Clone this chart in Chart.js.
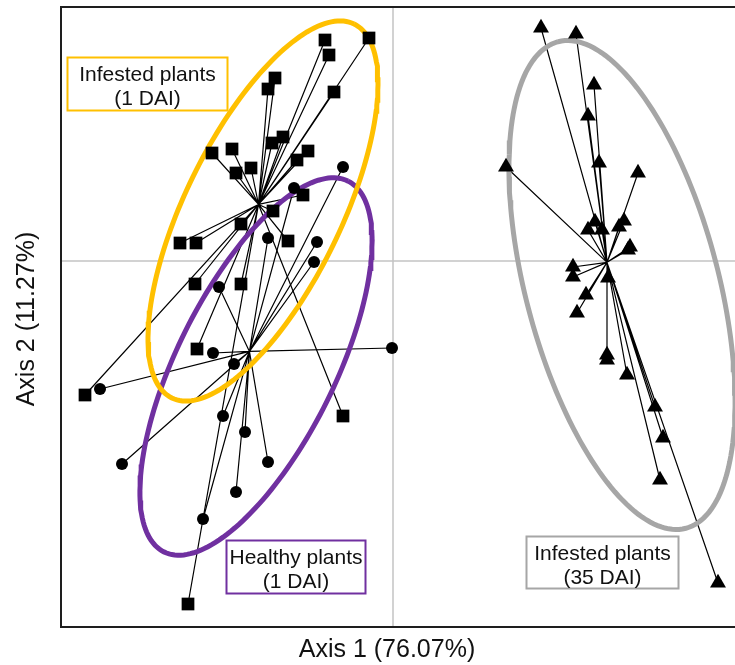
<!DOCTYPE html>
<html>
<head>
<meta charset="utf-8">
<script src="https://cdn.jsdelivr.net/npm/chart.js@4/dist/chart.umd.min.js"></script>
<style>
  html, body { margin: 0; padding: 0; background: #fff; overflow: hidden; }
  #wrap { width: 735px; height: 665px; position: relative; }
</style>
</head>
<body>
<div id="wrap"><canvas id="c" width="735" height="665"></canvas></div>
<script>
// PCoA scores (Axis 1, Axis 2) per sample, grouped by treatment
const infested1DaiX = [-0.068, -0.024, -0.064, -0.118, -0.125, -0.059, -0.110, -0.121, -0.161, -0.181,
                       -0.085, -0.096, -0.142, -0.157, -0.090, -0.120, -0.152, -0.213, -0.197, -0.105,
                       -0.198, -0.152, -0.196, -0.308, -0.050, -0.205];
const infested1DaiY = [ 0.221,  0.223,  0.206,  0.183,  0.172,  0.169,  0.124,  0.118,  0.112,  0.108,
                        0.110,  0.101,  0.093,  0.088,  0.066,  0.050,  0.037,  0.018,  0.018,  0.020,
                       -0.023, -0.023, -0.088, -0.134, -0.155, -0.343];

const healthy1DaiX = [-0.050, -0.099, -0.125, -0.076, -0.079, -0.174, -0.001, -0.180,
                      -0.159, -0.293, -0.170, -0.148, -0.271, -0.125, -0.157, -0.190];
const healthy1DaiY = [ 0.094,  0.073,  0.023,  0.019, -0.001, -0.026, -0.087, -0.092,
                      -0.103, -0.128, -0.155, -0.171, -0.203, -0.201, -0.231, -0.258];

const infested35DaiX = [0.148, 0.183, 0.201, 0.195, 0.206, 0.113, 0.245, 0.202, 0.195, 0.209,
                        0.231, 0.226, 0.237, 0.235, 0.180, 0.180, 0.215, 0.193, 0.184, 0.214,
                        0.214, 0.234, 0.262, 0.270, 0.267, 0.325];
const infested35DaiY = [0.233, 0.227, 0.176, 0.145, 0.098, 0.094, 0.088, 0.039, 0.031, 0.031,
                        0.040, 0.034, 0.014, 0.011, -0.006, -0.016, -0.017, -0.034, -0.052, -0.094,
                       -0.099, -0.114, -0.146, -0.177, -0.219, -0.322];

// Group dispersion ellipses: centre, semi-axes and rotation (degrees)
const ellipseCentreX = [-0.130, -0.137, 0.229];
const ellipseCentreY = [ 0.050, -0.1055, -0.024];
const ellipseMajor   = [ 0.208,  0.207,  0.2515];
const ellipseMinor   = [ 0.078,  0.079,  0.0965];
const ellipseAngle   = [ 64.0,   63.6,  104.7];

// Group label boxes (anchored at a centre in axis units)
const labelLines = [['Infested plants', '(1 DAI)'], ['Healthy plants', '(1 DAI)'], ['Infested plants', '(35 DAI)']];
const labelCentreX = [-0.246, -0.0975, 0.209];
const labelCentreY = [ 0.1775, -0.3055, -0.301];

const axisTitles = ['Axis 1 (76.07%)', 'Axis 2 (11.27%)'];

const groupColours = ['#FFC000', '#7030A0', '#A6A6A6'];
const markerStyles = ['rect', 'circle', 'triangle'];
const markerRadii = [9, 6, 9.2];
const labelSizes = [[160, 53], [139, 53], [152, 52]];

const groups = [
  { xs: infested1DaiX, ys: infested1DaiY },
  { xs: healthy1DaiX, ys: healthy1DaiY },
  { xs: infested35DaiX, ys: infested35DaiY }
];

const mean = a => a.reduce((s, v) => s + v, 0) / a.length;

const datasets = [];
groups.forEach((g, gi) => {
  const pts = g.xs.map((x, i) => ({ x, y: g.ys[i] }));
  const cx = mean(g.xs), cy = mean(g.ys);

  // spokes from group centroid to each sample
  const spokes = [];
  pts.forEach(p => {
    spokes.push({ x: cx, y: cy }, { x: p.x, y: p.y }, { x: p.x, y: null });
  });
  datasets.push({
    data: spokes, showLine: true, spanGaps: false, pointRadius: 0, pointHoverRadius: 0,
    borderColor: '#000', borderWidth: 1.2, order: 3
  });

  // dispersion ellipse outline
  const ring = [];
  const th = ellipseAngle[gi] * Math.PI / 180;
  for (let k = 0; k <= 180; k++) {
    const t = k / 180 * 2 * Math.PI;
    const u = ellipseMajor[gi] * Math.cos(t), v = ellipseMinor[gi] * Math.sin(t);
    ring.push({
      x: ellipseCentreX[gi] + u * Math.cos(th) - v * Math.sin(th),
      y: ellipseCentreY[gi] + u * Math.sin(th) + v * Math.cos(th)
    });
  }
  datasets.push({
    data: ring, showLine: true, pointRadius: 0, pointHoverRadius: 0, tension: 0,
    borderColor: groupColours[gi], borderWidth: 5, order: 2, clip: false
  });

  // sample markers
  datasets.push({
    data: pts, showLine: false, pointStyle: markerStyles[gi], pointRadius: markerRadii[gi],
    backgroundColor: '#000', borderColor: '#000', borderWidth: 0, order: 1
  });
});

const fontFamily = '"Liberation Sans", Arial, sans-serif';

const framePlugin = {
  id: 'frame',
  beforeDatasetsDraw(chart) {
    const { ctx, chartArea: a, scales: { x, y } } = chart;
    ctx.save();
    ctx.strokeStyle = '#c4c4c4';
    ctx.lineWidth = 1.5;
    const x0 = x.getPixelForValue(0), y0 = y.getPixelForValue(0);
    ctx.beginPath();
    ctx.moveTo(x0, a.top); ctx.lineTo(x0, a.bottom);
    ctx.moveTo(a.left, y0); ctx.lineTo(chart.width, y0);
    ctx.stroke();
    ctx.restore();
  },
  afterDatasetsDraw(chart) {
    const { ctx, chartArea: a, scales: { x, y } } = chart;
    ctx.save();
    // group label boxes
    labelLines.forEach((lines, i) => {
      const cx = x.getPixelForValue(labelCentreX[i]);
      const cy = y.getPixelForValue(labelCentreY[i]);
      const [w, h] = labelSizes[i];
      const left = Math.round(cx - w / 2) + 0.5, top = Math.round(cy - h / 2) + 0.5;
      ctx.fillStyle = '#fff';
      ctx.fillRect(left, top, w, h);
      ctx.strokeStyle = groupColours[i];
      ctx.lineWidth = 2;
      ctx.strokeRect(left, top, w, h);
      ctx.fillStyle = '#111';
      ctx.font = '21px ' + fontFamily;
      ctx.textAlign = 'center';
      ctx.textBaseline = 'alphabetic';
      ctx.fillText(lines[0], left + w / 2, top + 23);
      ctx.fillText(lines[1], left + w / 2, top + 47);
    });
    // plot frame (left, top, bottom)
    ctx.strokeStyle = '#1e1e1e';
    ctx.lineWidth = 2;
    ctx.beginPath();
    ctx.moveTo(chart.width, a.top); ctx.lineTo(a.left, a.top);
    ctx.lineTo(a.left, a.bottom); ctx.lineTo(chart.width, a.bottom);
    ctx.stroke();
    // axis titles
    ctx.fillStyle = '#111';
    ctx.font = '25px ' + fontFamily;
    ctx.textAlign = 'center';
    ctx.textBaseline = 'alphabetic';
    ctx.fillText(axisTitles[0], a.left + 326, a.bottom + 30);
    ctx.translate(34, (a.top + a.bottom) / 2 + 2);
    ctx.rotate(-Math.PI / 2);
    ctx.fillText(axisTitles[1], 0, 0);
    ctx.restore();
  }
};

new Chart(document.getElementById('c'), {
  type: 'scatter',
  data: { datasets },
  options: {
    responsive: false,
    animation: false,
    devicePixelRatio: 1,
    layout: { autoPadding: false, padding: { left: 61, top: 7, right: 0, bottom: 38 } },
    plugins: { legend: { display: false }, tooltip: { enabled: false } },
    scales: {
      x: { type: 'linear', min: -0.332, max: 0.342, display: false },
      y: { type: 'linear', min: -0.366, max: 0.254, display: false }
    }
  },
  plugins: [framePlugin]
});
</script>
</body>
</html>
